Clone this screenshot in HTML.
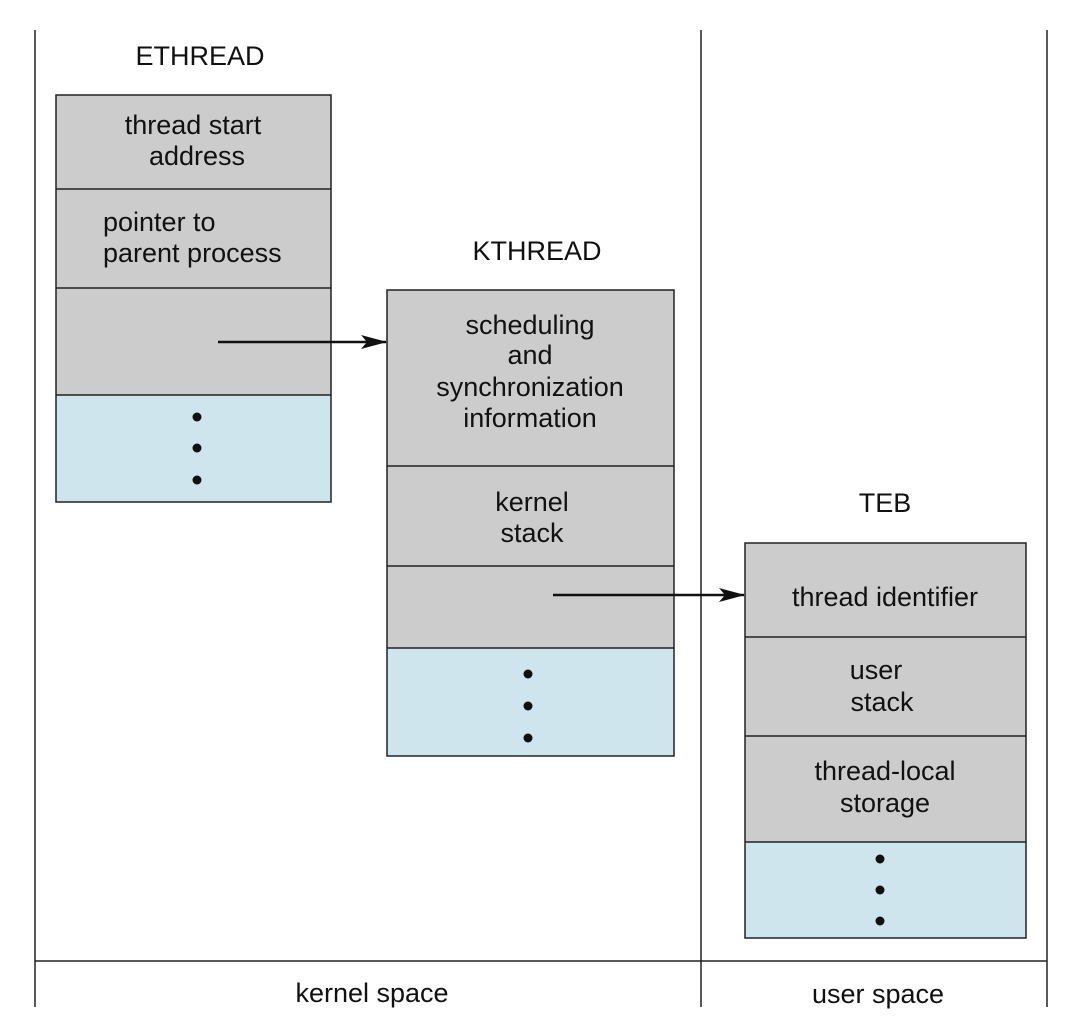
<!DOCTYPE html>
<html><head><meta charset="utf-8"><style>
html,body{margin:0;padding:0;background:#fff;}
svg{display:block;}
text{font-family:"Liberation Sans",Arial,sans-serif;font-size:27px;fill:#111;text-anchor:middle;}
</style></head><body>
<svg width="1080" height="1034" viewBox="0 0 1080 1034" xmlns="http://www.w3.org/2000/svg">
<defs><marker id="ah" markerWidth="26" markerHeight="14" refX="25" refY="7" orient="auto" markerUnits="userSpaceOnUse"><path d="M0,0 L26,7 L0,14 L6,7 Z" fill="#111"/></marker></defs>
<g stroke="#222" stroke-width="1.5">
<line x1="35" y1="30" x2="35" y2="1007"/>
<line x1="701" y1="30" x2="701" y2="1007"/>
<line x1="1047" y1="30" x2="1047" y2="1007"/>
<line x1="35" y1="961" x2="1047" y2="961"/>
</g>
<rect x="56" y="95" width="275" height="300" fill="#cccccc"/>
<rect x="56" y="395" width="275" height="107" fill="#cfe5ee"/>
<g stroke="#222" stroke-width="1.5" fill="none">
<rect x="56" y="95" width="275" height="407"/>
<line x1="56" y1="189" x2="331" y2="189"/><line x1="56" y1="288" x2="331" y2="288"/><line x1="56" y1="395" x2="331" y2="395"/>
</g>
<text x="200" y="65">ETHREAD</text>
<text x="193" y="134">thread start</text><text x="197" y="165">address</text>
<text x="103" y="231" style="text-anchor:start">pointer to</text><text x="103" y="262" style="text-anchor:start">parent process</text>
<circle cx="197" cy="417" r="4.5" fill="#111"/><circle cx="197" cy="448" r="4.5" fill="#111"/><circle cx="197" cy="480" r="4.5" fill="#111"/>
<rect x="387" y="290" width="287" height="358" fill="#cccccc"/>
<rect x="387" y="648" width="287" height="108" fill="#cfe5ee"/>
<g stroke="#222" stroke-width="1.5" fill="none">
<rect x="387" y="290" width="287" height="466"/>
<line x1="387" y1="466" x2="674" y2="466"/><line x1="387" y1="566" x2="674" y2="566"/><line x1="387" y1="648" x2="674" y2="648"/>
</g>
<text x="537" y="260">KTHREAD</text>
<text x="530" y="334">scheduling</text><text x="530" y="364">and</text><text x="530" y="396">synchronization</text><text x="530" y="427">information</text>
<text x="532" y="511">kernel</text><text x="532" y="542">stack</text>
<circle cx="528" cy="674" r="4.5" fill="#111"/><circle cx="528" cy="706" r="4.5" fill="#111"/><circle cx="528" cy="738" r="4.5" fill="#111"/>
<rect x="745" y="543" width="281" height="299" fill="#cccccc"/>
<rect x="745" y="842" width="281" height="96" fill="#cfe5ee"/>
<g stroke="#222" stroke-width="1.5" fill="none">
<rect x="745" y="543" width="281" height="395"/>
<line x1="745" y1="637" x2="1026" y2="637"/><line x1="745" y1="736" x2="1026" y2="736"/><line x1="745" y1="842" x2="1026" y2="842"/>
</g>
<text x="885" y="512">TEB</text>
<text x="885" y="606">thread identifier</text>
<text x="876" y="679">user</text><text x="882" y="711">stack</text>
<text x="885" y="780">thread-local</text><text x="885" y="812">storage</text>
<circle cx="880" cy="859" r="4.5" fill="#111"/><circle cx="880" cy="890" r="4.5" fill="#111"/><circle cx="880" cy="921" r="4.5" fill="#111"/>
<line x1="218" y1="342" x2="386" y2="342" stroke="#111" stroke-width="2.5" marker-end="url(#ah)"/>
<line x1="553" y1="595" x2="744" y2="595" stroke="#111" stroke-width="2.5" marker-end="url(#ah)"/>
<text x="372" y="1002">kernel space</text>
<text x="878" y="1003">user space</text>
</svg>
</body></html>
